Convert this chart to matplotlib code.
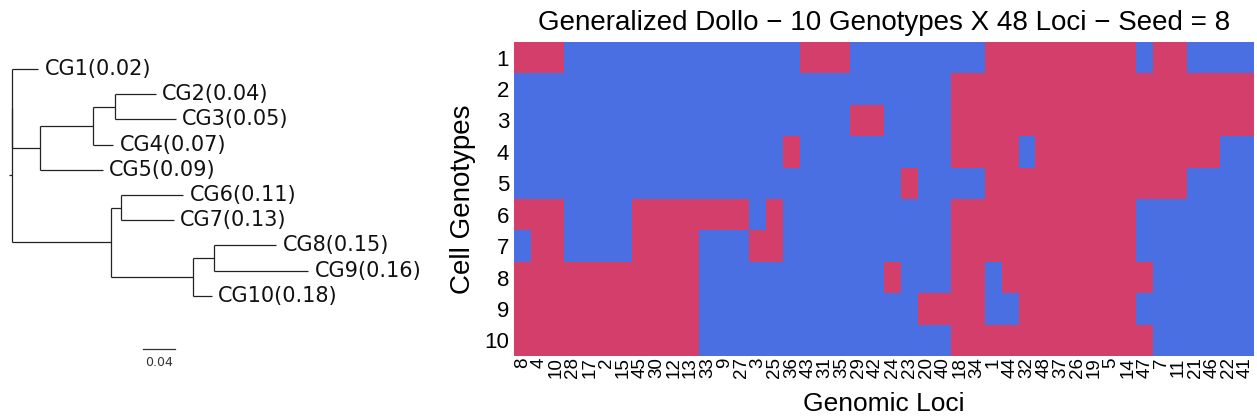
import numpy as np
import matplotlib.pyplot as plt
from matplotlib.colors import ListedColormap

plt.rcParams['font.family'] = ['Liberation Sans', 'DejaVu Sans']

# loci in clustered column order
loci = [8, 4, 10, 28, 17, 2, 15, 45, 30, 12, 13, 33, 9, 27, 3, 25, 36, 43, 31, 35,
        29, 42, 24, 23, 20, 40, 18, 34, 1, 44, 32, 48, 37, 26, 19, 5, 14, 47, 7, 11,
        21, 46, 22, 41]
genotypes = list(range(1, 11))

# 1 = mutated locus, one string per cell genotype (spaces only for reading)
genotype_rows = [
    "111 00000000000000 111 00000000 111111111 0 11 0000",
    "00000000000000000000000000 111111111111111111",
    "00000000000000000000 11 0000 111111111111111111",
    "0000000000000000 1 000000000 1111 0 11111111111 00",
    "00000000000000000000000 1 0000 111111111111 0000",
    "111 0000 1111111 0 1 0000000000 11111111111 0000000",
    "0 11 0000 1111 000 11 0000000000 11111111111 0000000",
    "11111111111 00000000000 1 000 11 0 111111111 000000",
    "11111111111 0000000000000 1111 00 1111111 0000000",
    "11111111111 000000000000000 111111111111 000000",
]

# genotype tree: (branch length, leaf name or list of children)
tree = (0.0, [
    (0.0, [
        (0.032, "CG1"),
        (0.034, [
            (0.065, [
                (0.027, [(0.050, "CG2"), (0.075, "CG3")]),
                (0.025, "CG4"),
            ]),
            (0.077, "CG5"),
        ]),
    ]),
    (0.121, [
        (0.012, [(0.077, "CG6"), (0.065, "CG7")]),
        (0.101, [
            (0.025, [(0.077, "CG8"), (0.116, "CG9")]),
            (0.023, "CG10"),
        ]),
    ]),
])
leaf_freq = {"CG1": 0.02, "CG2": 0.04, "CG3": 0.05, "CG4": 0.07, "CG5": 0.09,
             "CG6": 0.11, "CG7": 0.13, "CG8": 0.15, "CG9": 0.16, "CG10": 0.18}
scale_len = 0.04

blue = "#4A6FE3"
red = "#D33F6A"

matrix = np.array([[int(c) for c in r.replace(" ", "")] for r in genotype_rows])

fig = plt.figure(figsize=(12.57, 4.19), dpi=100)

# ---- tree panel ----
axt = fig.add_axes([0, 0, 440 / 1257, 1])
px = 815.0  # pixels per branch-length unit
axt.set_xlim(-12.3 / px, (440 - 12.3) / px)
axt.set_ylim((419 - 69) / 25.2, -69 / 25.2)
axt.axis("off")

leaf_counter = [0]
line_kw = dict(color="#222222", lw=0.9, solid_capstyle="butt")


def draw_node(node, x0):
    length, content = node
    x = x0 + length
    if isinstance(content, str):
        y = leaf_counter[0]
        leaf_counter[0] += 1
        axt.annotate(f"{content}({leaf_freq[content]:.2f})", (x, y),
                     xytext=(4.5, 0), textcoords="offset points",
                     va="center", ha="left", fontsize=15, family="DejaVu Sans",
                     color="#111111")
    else:
        ys = [draw_node(ch, x) for ch in content]
        axt.plot([x, x], [ys[0], ys[-1]], **line_kw)
        y = (ys[0] + ys[-1]) / 2
    axt.plot([x0, x], [y, y], **line_kw)
    return y


root_y = draw_node(tree, 0.0)
axt.plot([-0.0037, 0], [root_y, root_y], **line_kw)

# scale bar
sb_x, sb_y = (142.7 - 12.3) / px, (349.3 - 69) / 25.2
axt.plot([sb_x, sb_x + scale_len], [sb_y, sb_y], color="#333333", lw=0.9)
axt.text(sb_x + scale_len / 2, sb_y + 0.25, f"{scale_len:.2f}", ha="center",
         va="top", fontsize=9, family="DejaVu Sans", color="#333333")

# ---- heatmap panel ----
ax = fig.add_axes([514 / 1257, (419 - 356) / 419, 740 / 1257, 314 / 419])
ax.pcolormesh(matrix, cmap=ListedColormap([blue, red]), vmin=0, vmax=1)
ax.set_xlim(0, len(loci))
ax.set_ylim(len(genotypes), 0)
ax.set_xticks(np.arange(len(loci)) + 0.5)
ax.set_xticklabels([str(l) for l in loci], rotation=90, fontsize=13.5)
ax.set_yticks(np.arange(len(genotypes)) + 0.5)
ax.set_yticklabels([str(g) for g in genotypes], fontsize=16)
ax.tick_params(axis="x", length=0, pad=1)
ax.tick_params(axis="y", length=0, pad=3.5)
for s in ax.spines.values():
    s.set_visible(False)
ax.set_xlabel("Genomic Loci", fontsize=19, labelpad=10)
ax.set_ylabel("Cell Genotypes", fontsize=20, labelpad=6)
ax.set_title("Generalized Dollo \u2212 10 Genotypes X 48 Loci \u2212 Seed = 8",
             fontsize=20, pad=9)

fig.savefig("out.png", dpi=100)
